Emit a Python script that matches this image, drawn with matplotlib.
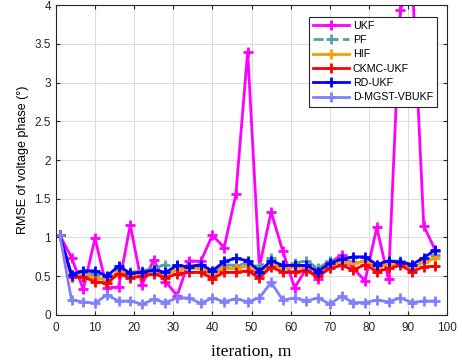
import numpy as np
import matplotlib
matplotlib.use("Agg")
import matplotlib.pyplot as plt

iters = list(range(1, 98, 3))

ukf = [1.03, 0.74, 0.33, 0.99, 0.35, 0.36, 1.16, 0.39, 0.71, 0.43, 0.25,
       0.70, 0.69, 1.03, 0.87, 1.56, 3.40, 0.62, 1.33, 0.82, 0.35, 0.60,
       0.47, 0.68, 0.77, 0.60, 0.44, 1.13, 0.46, 3.93, 4.40, 1.15, 0.83]
pf = [1.03, 0.52, 0.55, 0.52, 0.48, 0.60, 0.55, 0.57, 0.60, 0.65, 0.63,
      0.63, 0.65, 0.55, 0.65, 0.64, 0.67, 0.62, 0.73, 0.63, 0.67, 0.70,
      0.60, 0.70, 0.72, 0.68, 0.70, 0.65, 0.69, 0.70, 0.65, 0.70, 0.77]
hif = [1.03, 0.50, 0.52, 0.48, 0.45, 0.56, 0.52, 0.54, 0.56, 0.53, 0.58,
       0.60, 0.61, 0.52, 0.60, 0.60, 0.63, 0.52, 0.66, 0.60, 0.62, 0.62,
       0.54, 0.65, 0.68, 0.67, 0.69, 0.61, 0.66, 0.67, 0.61, 0.68, 0.73]
ckmc = [1.03, 0.49, 0.49, 0.43, 0.41, 0.53, 0.48, 0.50, 0.53, 0.48, 0.53,
        0.55, 0.55, 0.47, 0.55, 0.55, 0.57, 0.48, 0.62, 0.55, 0.56, 0.57,
        0.50, 0.60, 0.64, 0.58, 0.65, 0.56, 0.60, 0.64, 0.56, 0.62, 0.63]
rd = [1.03, 0.52, 0.57, 0.57, 0.50, 0.63, 0.54, 0.55, 0.58, 0.55, 0.64,
      0.62, 0.65, 0.57, 0.69, 0.73, 0.70, 0.56, 0.70, 0.64, 0.64, 0.64,
      0.56, 0.67, 0.72, 0.75, 0.75, 0.65, 0.70, 0.68, 0.65, 0.74, 0.84]
dmgst = [1.03, 0.19, 0.17, 0.15, 0.26, 0.18, 0.18, 0.14, 0.20, 0.16, 0.22,
         0.22, 0.15, 0.22, 0.17, 0.21, 0.17, 0.22, 0.42, 0.19, 0.22, 0.18,
         0.22, 0.14, 0.24, 0.16, 0.16, 0.19, 0.17, 0.22, 0.16, 0.18, 0.18]

fig = plt.figure(figsize=(4.62, 3.62), dpi=100)
ax = fig.add_axes([0.121, 0.130, 0.847, 0.856])

lw = 2.0
ax.plot(iters, ukf, '-+', color='#FF00FF', lw=lw, ms=7, mew=2, label='UKF')
ax.plot(iters, pf, '--+', color='#5F9EA0', lw=lw, ms=7, mew=2, label='PF')
ax.plot(iters, hif, '-+', color='#FF9900', lw=lw, ms=7, mew=2, label='HIF')
ax.plot(iters, ckmc, '-+', color='#FF0000', lw=lw, ms=7, mew=2, label='CKMC-UKF')
ax.plot(iters, rd, '-+', color='#0000FF', lw=lw, ms=7, mew=2, label='RD-UKF')
ax.plot(iters, dmgst, '-+', color='#8080FF', lw=lw, ms=7, mew=2, label='D-MGST-VBUKF')

ax.set_xlim(0, 100)
ax.set_ylim(0, 4)
ax.set_xticks(range(0, 101, 10))
ax.set_yticks(np.arange(0, 4.01, 0.5))
ax.set_yticklabels(['0', '0.5', '1', '1.5', '2', '2.5', '3', '3.5', '4'])
ax.tick_params(direction='in', labelsize=8.5, colors='#262626', length=3,
               top=True, right=True)
ax.tick_params(axis='x', pad=5)
for lab in ax.get_xticklabels() + ax.get_yticklabels():
    lab.set_fontfamily('Liberation Sans')
ax.grid(True, color='#dedede', lw=0.8)
ax.set_axisbelow(True)
for sp in ax.spines.values():
    sp.set_color('#262626')
    sp.set_linewidth(0.8)

ax.set_ylabel('RMSE of voltage phase (°)', fontsize=9, family='Liberation Sans')
ax.set_xlabel('iteration, m', fontsize=12.5, family='Liberation Serif', labelpad=7)

leg = ax.legend(loc='upper right', bbox_to_anchor=(0.988, 0.98),
                prop={'family': 'Liberation Sans', 'size': 7.7},
                fancybox=False, framealpha=1, edgecolor='#262626',
                handlelength=3.4, borderpad=0.4, labelspacing=0.4,
                handletextpad=0.3)
leg.get_frame().set_linewidth(0.8)

fig.savefig('out.png', dpi=100)
